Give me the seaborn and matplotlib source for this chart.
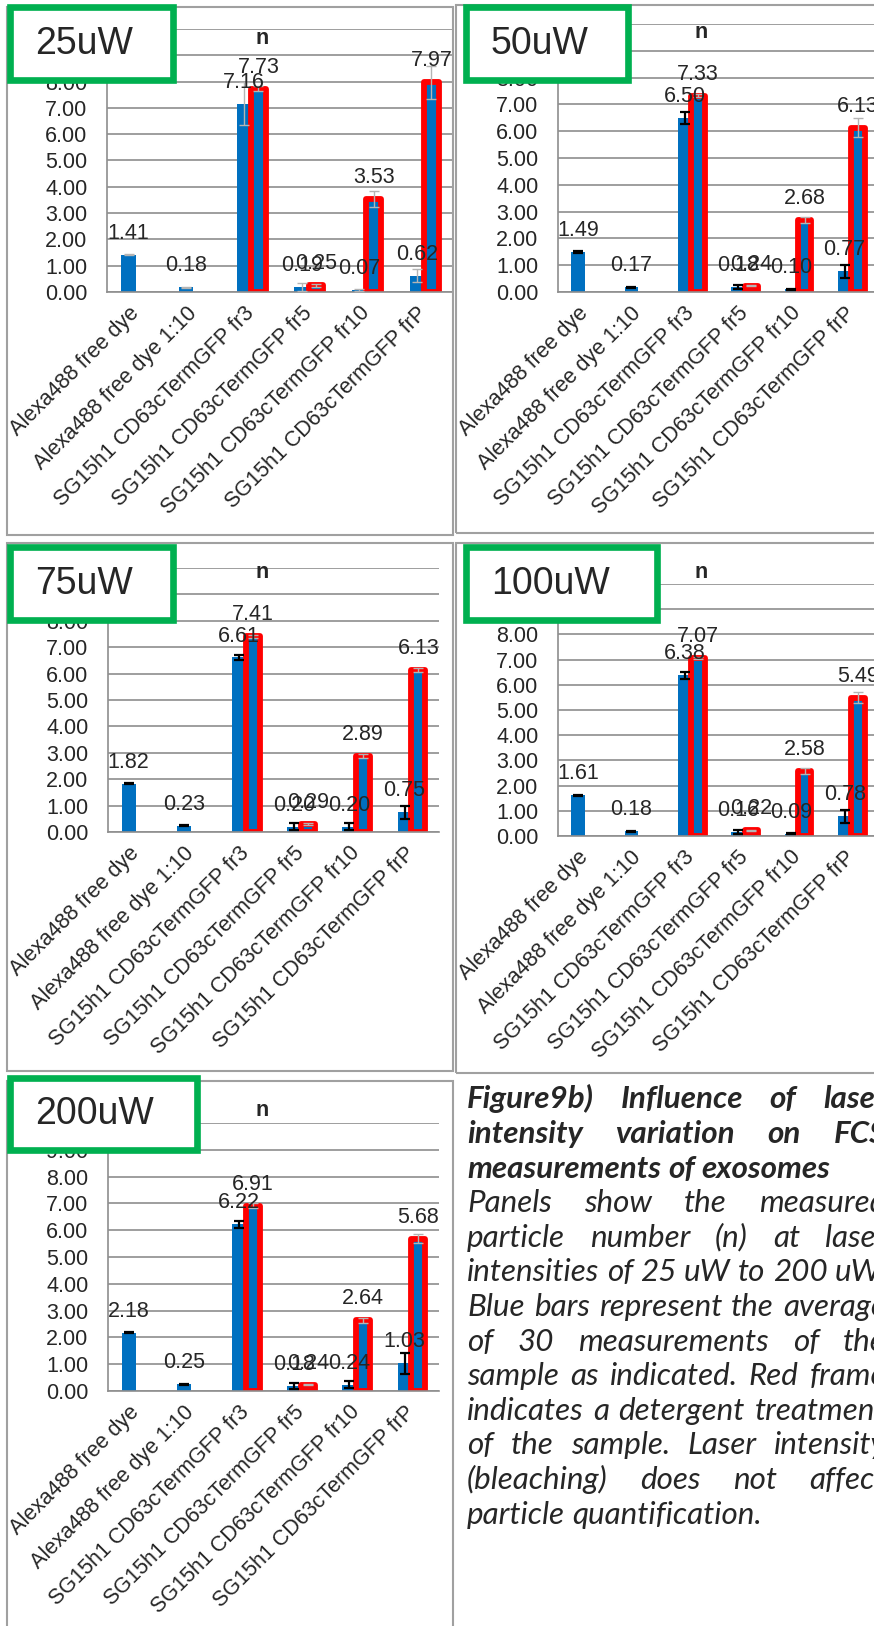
import numpy as np
import pandas as pd
import matplotlib
matplotlib.use("Agg")
import matplotlib.pyplot as plt
import seaborn as sns
from matplotlib.patches import Rectangle

nan = np.nan

# ---------------- data ----------------
categories = ["Alexa488 free dye", "Alexa488 free dye 1:10",
              "SG15h1 CD63cTermGFP fr3", "SG15h1 CD63cTermGFP fr5",
              "SG15h1 CD63cTermGFP fr10", "SG15h1 CD63cTermGFP frP"]
series_names = ["untreated", "detergent"]
panel_labels = ["25uW", "50uW", "75uW", "100uW", "200uW"]
title_text = "n"
y_ticks = [0, 1, 2, 3, 4, 5, 6, 7, 8, 9, 10]

n_25uW = [1.41, 0.18, 7.16, 0.19, 0.07, 0.62]
n_25uW_det = [nan, nan, 7.73, 0.25, 3.53, 7.97]
sd_25uW = [0.02, 0.02, 0.82, 0.14, 0.05, 0.24]
sd_25uW_det = [nan, nan, 0.10, 0.05, 0.30, 0.63]

n_50uW = [1.49, 0.17, 6.50, 0.18, 0.10, 0.77]
n_50uW_det = [nan, nan, 7.33, 0.24, 2.68, 6.13]
sd_50uW = [0.03, 0.02, 0.23, 0.08, 0.03, 0.24]
sd_50uW_det = [nan, nan, 0.05, 0.02, 0.10, 0.35]

n_75uW = [1.82, 0.23, 6.61, 0.20, 0.20, 0.75]
n_75uW_det = [nan, nan, 7.41, 0.29, 2.89, 6.13]
sd_75uW = [0.02, 0.02, 0.10, 0.13, 0.13, 0.25]
sd_75uW_det = [nan, nan, 0.05, 0.04, 0.08, 0.08]

n_100uW = [1.61, 0.18, 6.38, 0.16, 0.09, 0.78]
n_100uW_det = [nan, nan, 7.07, 0.22, 2.58, 5.49]
sd_100uW = [0.02, 0.02, 0.13, 0.07, 0.02, 0.25]
sd_100uW_det = [nan, nan, 0.05, 0.02, 0.10, 0.22]

n_200uW = [2.18, 0.25, 6.22, 0.18, 0.24, 1.03]
n_200uW_det = [nan, nan, 6.91, 0.24, 2.64, 5.68]
sd_200uW = [0.03, 0.02, 0.13, 0.11, 0.14, 0.40]
sd_200uW_det = [nan, nan, 0.10, 0.02, 0.10, 0.16]

caption_lines = [
    ("Figure9b) Influence of laser", True, True),
    ("intensity variation on FCS", True, True),
    ("measurements of exosomes", True, False),
    ("Panels show the measured", False, True),
    ("particle number (n) at laser", False, True),
    ("intensities of 25 uW to 200 uW.", False, True),
    ("Blue bars represent the average", False, True),
    ("of 30 measurements of the", False, True),
    ("sample as indicated. Red frame", False, True),
    ("indicates a detergent treatment", False, True),
    ("of the sample. Laser intensity", False, True),
    ("(bleaching) does not affect", False, True),
    ("particle quantification.", False, False),
]

# ---------------- style ----------------
sns.set_style("white")
plt.rcParams['font.family'] = ['Liberation Sans', 'DejaVu Sans']

BLUE = "#0070C0"
RED = "#FF0000"
GREEN = "#00B050"
GRID = "#8E8E8E"
FRAME = "#A0A0A0"
LIGHTERR = "#B4B4B4"
FS = 15.5

W, H = 874, 1626
fig = plt.figure(figsize=(W / 100, H / 100), dpi=100)
fig.patch.set_facecolor("white")


def fx(x):
    return x / W


def fy(y):
    return 1 - y / H


panels = [
    dict(vals=n_25uW, det=n_25uW_det, sd=sd_25uW, sd_det=sd_25uW_det,
         plot=(107, 29, 453, 292), frame=(7, 7, 453, 535), green=(10, 7, 173, 80),
         title=(262, 38), ecol=LIGHTERR, elw=1.0),
    dict(vals=n_50uW, det=n_50uW_det, sd=sd_50uW, sd_det=sd_50uW_det,
         plot=(558, 24, 878, 292), frame=(456, 5, 885, 533), green=(466, 7, 628, 80),
         title=(701, 33), ecol="black", elw=1.6),
    dict(vals=n_75uW, det=n_75uW_det, sd=sd_75uW, sd_det=sd_75uW_det,
         plot=(108, 568, 439, 832), frame=(7, 543, 453, 1071), green=(10, 547, 173, 620),
         title=(262, 572), ecol="black", elw=1.6),
    dict(vals=n_100uW, det=n_100uW_det, sd=sd_100uW, sd_det=sd_100uW_det,
         plot=(558, 584, 878, 836), frame=(456, 543, 885, 1073), green=(466, 547, 657, 620),
         title=(701, 572), ecol="black", elw=1.6),
    dict(vals=n_200uW, det=n_200uW_det, sd=sd_200uW, sd_det=sd_200uW_det,
         plot=(108, 1123, 439, 1391), frame=(7, 1081, 453, 1640), green=(10, 1078, 197, 1150),
         title=(262, 1110), ecol="black", elw=1.6),
]

for label, P in zip(panel_labels, panels):
    # panel frame
    l, t, r, b = P["frame"]
    fig.add_artist(Rectangle((fx(l), fy(b)), (r - l) / W, (b - t) / H, transform=fig.transFigure,
                             fill=False, edgecolor=FRAME, lw=1.5, zorder=5))

    l, t, r, b = P["plot"]
    ax = fig.add_axes([fx(l), fy(b), (r - l) / W, (b - t) / H])
    ax.set_facecolor("white")
    ax.patch.set_alpha(0)

    df = pd.DataFrame({
        "category": categories * 2,
        "series": [series_names[0]] * len(categories) + [series_names[1]] * len(categories),
        "n": list(P["vals"]) + list(P["det"]),
    })
    sns.barplot(data=df, x="category", y="n", hue="series", order=categories,
                hue_order=series_names, palette=[BLUE, BLUE], width=0.5, gap=0,
                errorbar=None, saturation=1, legend=False, ax=ax, zorder=2)

    for p in ax.patches:
        h = p.get_height()
        if h is None or np.isnan(h):
            continue
        cx = p.get_x() + p.get_width() / 2
        i = int(round(cx))
        det = cx > i
        p.set_edgecolor(BLUE)
        p.set_linewidth(0)
        if det:
            p.set_edgecolor(RED)
            p.set_linewidth(4.2)
            p.set_joinstyle("round")
            err = P["sd_det"][i]
            ax.errorbar([cx], [h], yerr=[err], fmt="none", ecolor=LIGHTERR,
                        elinewidth=1.0, capsize=3.6, capthick=1.0, zorder=4)
        else:
            err = P["sd"][i]
            ax.errorbar([cx], [h], yerr=[err], fmt="none", ecolor=P["ecol"],
                        elinewidth=P["elw"], capsize=3.6, capthick=P["elw"], zorder=4)
        ax.annotate(f"{h:.2f}", (cx, h), xytext=(0, 11.5), textcoords="offset points",
                    ha="center", va="baseline", fontsize=FS, zorder=6)

    ax.set_xlim(-0.5, 5.5)
    ax.set_ylim(0, 10)
    ax.set_yticks(y_ticks)
    ax.set_yticklabels([f"{v:.2f}" for v in y_ticks])
    ax.yaxis.grid(True, color=GRID, lw=1.2)
    ax.xaxis.grid(False)
    ax.set_axisbelow(True)
    for s in ["top", "right"]:
        ax.spines[s].set_visible(False)
    for s in ["left", "bottom"]:
        ax.spines[s].set_color(GRID)
        ax.spines[s].set_linewidth(1.2)
    ax.set_xticks(range(len(categories)))
    ax.set_xticklabels(categories, rotation=45, ha="right", va="center",
                       rotation_mode="anchor")
    ax.set_xticks(np.arange(-0.5, len(categories), 1), minor=True)
    ax.tick_params(axis="x", which="major", length=0, pad=13, labelsize=FS)
    ax.tick_params(axis="x", which="minor", length=5, color=GRID, width=1.2)
    ax.tick_params(axis="y", length=5, color=GRID, width=1.2, pad=9, labelsize=FS)
    ax.set_xlabel("")
    ax.set_ylabel("")

    # title
    tx, ty = P["title"]
    fig.text(fx(tx), fy(ty), title_text, ha="center", va="center", fontsize=FS,
             fontweight="bold", zorder=7)

    # green label box
    l, t, r, b = P["green"]
    fig.add_artist(Rectangle((fx(l), fy(b)), (r - l) / W, (b - t) / H, transform=fig.transFigure,
                             facecolor="white", edgecolor=GREEN, lw=4.8, zorder=10))
    fig.text(fx(l + 25), fy((t + b) / 2), label, ha="left", va="center", fontsize=27,
             zorder=11)

# ---------------- caption (justified) ----------------
renderer = fig.canvas.get_renderer()
CAP_FONT = ["Lato", "DejaVu Sans"]


def width_of(s, **kw):
    tt = fig.text(0, 0, s, **kw)
    w = tt.get_window_extent(renderer).width
    tt.remove()
    return w


base = 20
w_ref = width_of("particle quantification.", family=CAP_FONT, style="italic", fontsize=base)
cap_size = base * 295 / w_ref

L, R = 467, 886
y0, dy = 1108.3, 34.6
for k, (line, bold, justify) in enumerate(caption_lines):
    kw = dict(family=CAP_FONT, style="italic", fontsize=cap_size,
              fontweight="bold" if bold else "normal")
    words = line.split()
    widths = [width_of(wd, **kw) for wd in words]
    space = width_of("a a", **kw) - 2 * width_of("a", **kw)
    if justify and len(words) > 1:
        gap = max(space, (R - L - sum(widths)) / (len(words) - 1))
    else:
        gap = space
    x = L
    yb = y0 + k * dy
    for wd, w in zip(words, widths):
        fig.text(fx(x), fy(yb), wd, ha="left", va="baseline", **kw)
        x += w + gap

fig.savefig("out.png", dpi=100, facecolor="white")
